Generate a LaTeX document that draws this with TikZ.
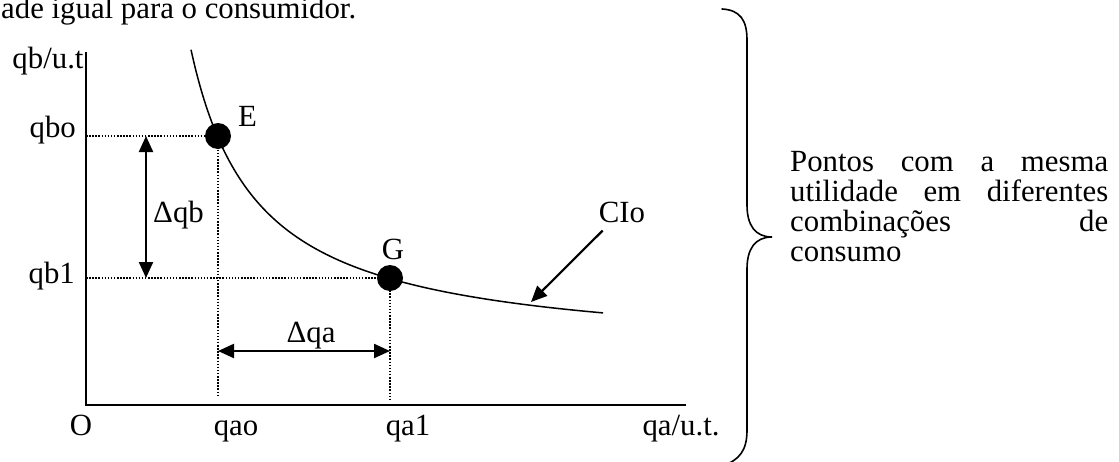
\documentclass[tikz,border=0pt]{standalone}
\usepackage{fontspec}
\setmainfont{Liberation Serif}
\usetikzlibrary{arrows.meta,calc}

\begin{document}
\begin{tikzpicture}[
    x=1pt, y=-1pt,
    every node/.style={inner sep=0pt, font=\fontsize{30.8}{30}\selectfont},
    axis/.style={line width=1.6pt},
    curve/.style={line width=1.5pt},
    guide/.style={line width=1.2pt, dash pattern=on 1.5pt off 1.6pt},
    dimarrow/.style={line width=2.2pt, {Triangle[length=16pt,width=14pt]}-{Triangle[length=16pt,width=14pt]}},
    pointer/.style={line width=2.2pt, -{Triangle[length=16pt,width=14pt]}},
    dot/.style={circle, fill=black, minimum size=26pt},
    brace/.style={line width=1.6pt, line cap=round}
]
\useasboundingbox (0,0) rectangle (1119,461);
\clip (0,0) rectangle (1119,461);

\node[anchor=base west] (caption) at (1,18) {ade igual para o consumidor.};

\coordinate (O) at (86,405);
\coordinate (ytop) at (86,52);
\coordinate (xend) at (686,405);
\coordinate (qaofoot) at (218,397);
\coordinate (qa1foot) at (390,400);
\coordinate (cipt) at (531,302);

\draw[axis] (ytop) -- (O) -- (xend);
\draw[curve] plot[domain=191:603, samples=100, smooth] (\x, {355.7 - 205/(\x-124)*100});

\node[dot] (E) at (218,136) {};
\node[dot] (G) at (390,278) {};

\draw[guide] (O |- E) -- (E.center) -- (qaofoot);
\draw[guide] (O |- G) -- (G.center) -- (qa1foot);

\draw[dimarrow] ([xshift=60pt]O |- E) -- ([xshift=60pt]O |- G);
\draw[dimarrow] ([yshift=54pt]E |- O) -- ([yshift=54pt]G |- O);

\node[anchor=base west] (Elbl) at (238,126) {E};
\node[anchor=base] (Glbl) at (393,259) {G};
\node[anchor=base west] (dqb) at (153,222) {Δqb};
\node[anchor=base] (dqa) at (311,342) {Δqa};
\node[anchor=base] (cio) at (622,222) {CIo};
\draw[pointer] ([shift={(4pt,-8pt)}]cio.south west) -- (cipt);

\node[anchor=base] (yname) at (48,68) {qb/u.t};
\node[anchor=base east] (qbo) at (76,137) {qbo};
\node[anchor=base east] (qb1) at (75,283) {qb1};
\node[anchor=base] (origin) at (81,435) {O};
\node[anchor=base] (qao) at (236,435) {qao};
\node[anchor=base] (qa1) at (408,435) {qa1};
\node[anchor=base] (xname) at (681,435) {qa/u.t.};

\draw[brace] (722,9) .. controls (740,10) and (747,20) .. (747,40) -- (747,205)
    .. controls (747,225) and (755,237) .. (772,237)
    .. controls (755,237) and (747,249) .. (747,269) -- (747,430)
    .. controls (747,450) and (740,460) .. (722,466);

\node[anchor=north west, text width=318pt, align=justify] (note) at (790,151)
    {Pontos com a mesma\linebreak utilidade em diferentes\linebreak combinações de\linebreak consumo};
\end{tikzpicture}
\end{document}
